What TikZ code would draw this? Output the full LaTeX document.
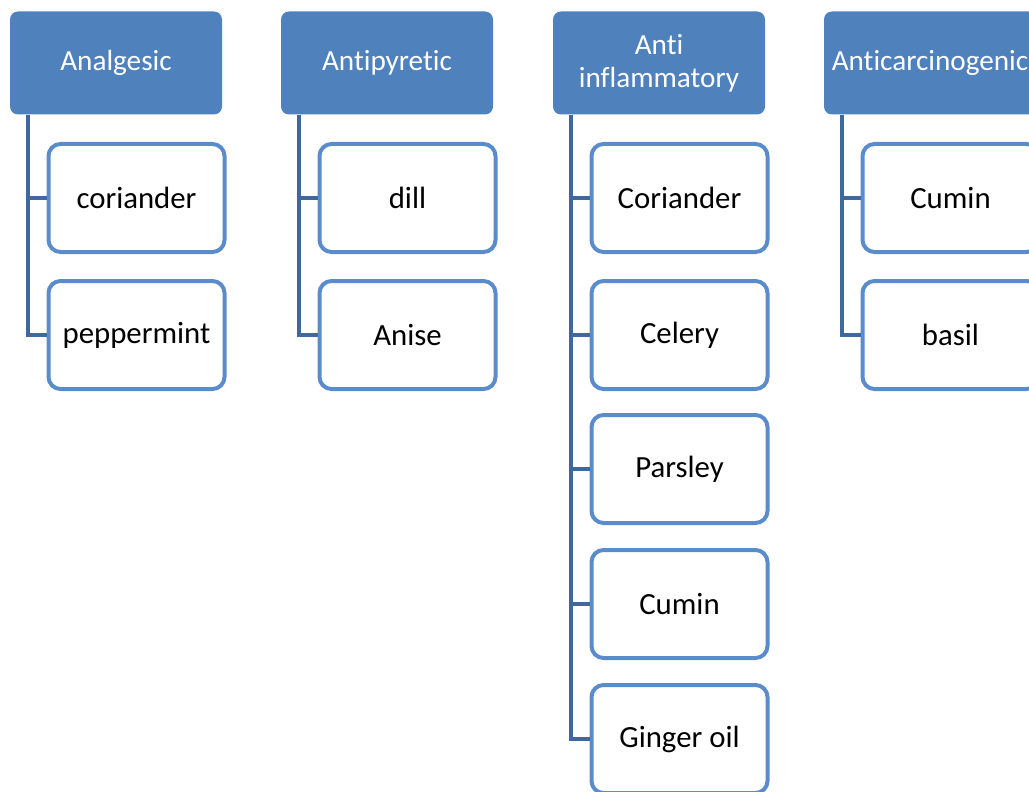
\documentclass[tikz,border=0pt]{standalone}
\usepackage{fontspec}
\setmainfont{Carlito}[Ligatures=NoCommon]
\usetikzlibrary{positioning}

\definecolor{hdrblue}{HTML}{4F81BD}
\definecolor{itemblue}{HTML}{5A8CCB}
\definecolor{linkblue}{HTML}{3E689F}

\tikzset{
    header/.style={rectangle, rounded corners=4pt, fill=hdrblue, text=white,
        minimum width=106pt, minimum height=51.5pt, inner sep=0pt, align=center,
        font=\fontsize{14.6}{16}\selectfont},
    item/.style={rectangle, rounded corners=6pt, draw=itemblue, line width=2pt,
        fill=white, minimum width=88pt, minimum height=54pt, inner sep=0pt,
        font=\fontsize{15.4}{17}\selectfont},
    link/.style={draw=linkblue, line width=1.9pt}
}

\begin{document}
\begin{tikzpicture}[x=0.5pt, y=-0.5pt]
    \useasboundingbox (0,0) rectangle (1029,792);

    \node[header] (g1) at (116, 63) {Analgesic};
    \node[header] (g2) at (387, 63) {Antipyretic};
    \node[header] (g3) at (659, 63) {Anti\\[0.5pt]inflammatory};
    \node[header] (g4) at (930, 63) {Anticarcinogenic};

    \node[item] (g1c1) at (136.5, 198) {coriander};
    \node[item] (g1c2) at (136.5, 335) {peppermint};

    \node[item] (g2c1) at (407.5, 198) {dill};
    \node[item] (g2c2) at (407.5, 335) {Anise};

    \node[item] (g3c1) at (679.5, 198) {Coriander};
    \node[item] (g3c2) at (679.5, 335) {Celery};
    \node[item] (g3c3) at (679.5, 469) {Parsley};
    \node[item] (g3c4) at (679.5, 604) {Cumin};
    \node[item] (g3c5) at (679.5, 739) {Ginger oil};

    \node[item] (g4c1) at (950.5, 198) {Cumin};
    \node[item] (g4c2) at (950.5, 335) {basil};

    % connectors from each header down its left side
    \draw[link] ([xshift=9pt]g1.south west) |- (g1c1.west);
    \draw[link] ([xshift=9pt]g1.south west) |- (g1c2.west);
    \draw[link] ([xshift=9pt]g2.south west) |- (g2c1.west);
    \draw[link] ([xshift=9pt]g2.south west) |- (g2c2.west);
    \draw[link] ([xshift=9pt]g3.south west) |- (g3c1.west);
    \draw[link] ([xshift=9pt]g3.south west) |- (g3c2.west);
    \draw[link] ([xshift=9pt]g3.south west) |- (g3c3.west);
    \draw[link] ([xshift=9pt]g3.south west) |- (g3c4.west);
    \draw[link] ([xshift=9pt]g3.south west) |- (g3c5.west);
    \draw[link] ([xshift=9pt]g4.south west) |- (g4c1.west);
    \draw[link] ([xshift=9pt]g4.south west) |- (g4c2.west);
\end{tikzpicture}
\end{document}
